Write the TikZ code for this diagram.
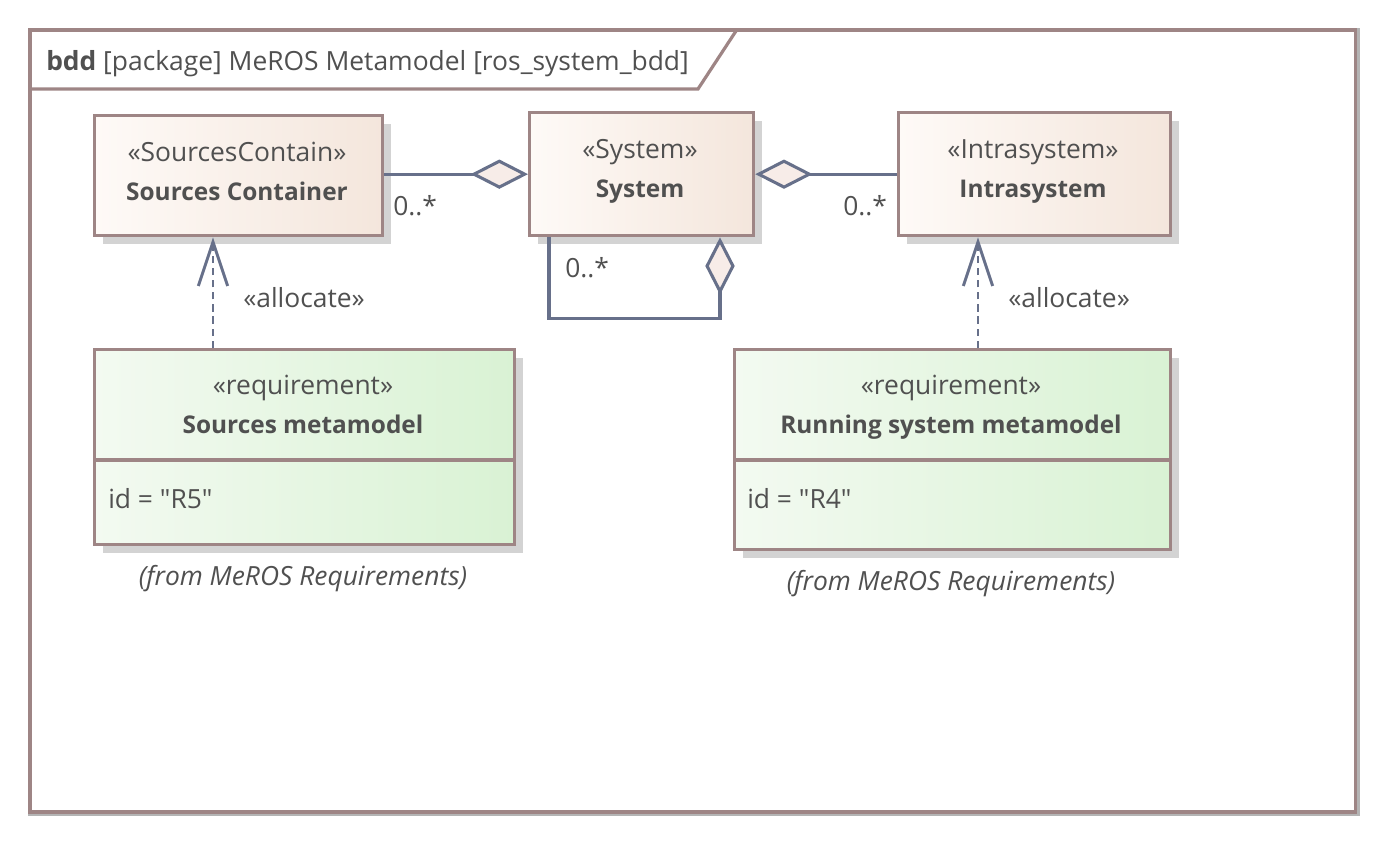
\documentclass[tikz,border=0pt]{standalone}
\usepackage{fontspec}
\setmainfont{Open Sans}[Ligatures=TeXOff]
\usetikzlibrary{arrows.meta,calc,shadows}
\definecolor{bord}{HTML}{9E8585}
\definecolor{conn}{HTML}{67708A}
\definecolor{txt}{HTML}{505050}
\definecolor{cl}{HTML}{FEFAF7}
\definecolor{cr}{HTML}{F4E6DC}
\definecolor{gl}{HTML}{F3FAF1}
\definecolor{gr}{HTML}{D9F2D4}
\definecolor{dfill}{HTML}{F7ECE8}
\definecolor{shad}{HTML}{D3D3D3}
\definecolor{fshad}{HTML}{B4B4B4}
\newcommand{\bname}[1]{{\fontsize{18.3}{22}\selectfont\bfseries #1}}
\begin{document}
\begin{tikzpicture}[x=0.75pt,y=-0.75pt,
  font=\fontsize{19.8}{24}\selectfont, text=txt,
  shbox/.style={draw=bord, line width=2.5pt, anchor=north west, inner sep=0pt,
    drop shadow={shadow xshift=6pt, shadow yshift=-6pt, fill=shad, opacity=1}},
  classbox/.style={shbox, left color=cl, right color=cr},
  reqbox/.style={shbox, left color=gl, right color=gr},
  lbl/.style={anchor=base, inner sep=0pt},
  lblw/.style={anchor=base west, inner sep=0pt},
  assoc/.style={draw=conn, line width=2.3pt,
    -{Kite[length=43pt, width=22pt, inset=21.5pt, fill=dfill]}},
  alloc/.style={draw=conn, line width=2.2pt, dash pattern=on 5.5pt off 3.6pt,
    -{Straight Barb[length=33pt, width=22pt]}},
]
\useasboundingbox (0,0) rectangle (1386,843);
% frame
\draw[fshad, line width=3pt] (29.5,29.5) rectangle (1357.5,814);
\draw[bord, line width=2.6pt] (30,30) rectangle (1355.5,812);
\draw[bord, line width=2.4pt] (31,89) -- (698,89) -- (736,31);
\node[lblw] (title) at (46,70) {\textbf{bdd} [package] MeROS Metamodel [ros\_system\_bdd]};

% class boxes
\node[classbox, minimum width=216pt, minimum height=90pt] (sc) at (93,114) {};
\node[classbox, minimum width=168pt, minimum height=92.25pt] (sys) at (528,111) {};
\node[classbox, minimum width=204pt, minimum height=92.25pt] (intra) at (897,111) {};
\node[lbl] (scst) at (237,161) {«SourcesContain»};
\node[lbl] (scnm) at (237,200) {\bname{Sources Container}};
\node[lbl] (sysst) at (640,158) {«System»};
\node[lbl] (sysnm) at (640,197) {\bname{System}};
\node[lbl] (inst) at (1033,158) {«Intrasystem»};
\node[lbl] (innm) at (1033,197) {\bname{Intrasystem}};

% requirement boxes
\node[reqbox, minimum width=315pt, minimum height=146.25pt] (rs) at (93,348) {};
\node[reqbox, minimum width=327pt, minimum height=150pt] (rr) at (733,348) {};
\draw[bord, line width=2.5pt] ($(rs.north west)+(0,112)$) -- ($(rs.north east)+(0,112)$);
\draw[bord, line width=2.5pt] ($(rr.north west)+(0,112)$) -- ($(rr.north east)+(0,112)$);
\node[lbl] (rsst) at (303,394) {«requirement»};
\node[lbl] (rsnm) at (303,433) {\bname{Sources metamodel}};
\node[lblw] (rsid) at (108,508) {id = "R5"};
\node[lbl] (rsfrom) at (303,585) {\textit{(from MeROS Requirements)}};
\node[lbl] (rrst) at (951,394) {«requirement»};
\node[lbl] (rrnm) at (951,433) {\bname{Running system metamodel}};
\node[lblw] (rrid) at (747,508) {id = "R4"};
\node[lbl] (rrfrom) at (951,590) {\textit{(from MeROS Requirements)}};

% associations
\draw[assoc] (sc.east |- sys.west) -- (sys.west);
\draw[assoc] (intra.west |- sys.east) -- (sys.east);
\draw[assoc] ($(sys.south west)+(21,0)$) |- ($(sys.south west)+(192,81)$) -- ($(sys.south west)+(192,0)$);
\node[lblw] (m1) at (393,215) {0..*};
\node[lblw] (m2) at (843,215) {0..*};
\node[lblw] (m3) at (565,277) {0..*};

% allocations
\draw[alloc] ($(rs.north west)+(120,0)$) -- ($(sc.south west)+(120,0)$);
\draw[alloc] ($(rr.north west)+(245,0)$) -- ($(intra.south west)+(81,0)$);
\node[lblw] (a1) at (243,307) {«allocate»};
\node[lblw] (a2) at (1008,307) {«allocate»};
\end{tikzpicture}
\end{document}
